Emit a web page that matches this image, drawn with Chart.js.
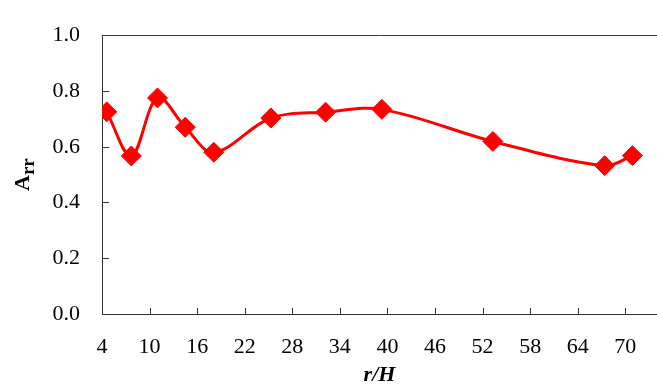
<!DOCTYPE html>
<html>
<head>
<meta charset="utf-8">
<script src="https://cdn.jsdelivr.net/npm/chart.js@4.4.1/dist/chart.umd.min.js"></script>
<style>
  html, body { margin:0; padding:0; background:#fff; overflow:hidden; }
  #wrap { width:657px; height:389px; position:relative; }
</style>
</head>
<body>
<div id="wrap"><canvas id="chart" width="657" height="389"></canvas></div>
<script>
// values
const rH  = [4.6, 7.7, 11.0, 14.5, 18.1, 25.3, 32.2, 39.3, 53.3, 67.4, 70.9];
const Arr = [0.725, 0.567, 0.775, 0.670, 0.580, 0.703, 0.724, 0.734, 0.619, 0.532, 0.568];
const xTicks = [4, 10, 16, 22, 28, 34, 40, 46, 52, 58, 64, 70];
const yTicks = [0, 0.2, 0.4, 0.6, 0.8, 1.0];

const serif = "'Liberation Serif', 'Times New Roman', serif";
const RED = '#ff0000';

// inward tick marks, top frame line, rotated A_rr title
const axisExtras = {
  id: 'axisExtras',
  afterDraw(chart) {
    const {ctx, chartArea: a, scales: {x, y}} = chart;
    ctx.save();
    ctx.strokeStyle = '#333';
    ctx.lineWidth = 1;
    ctx.beginPath();
    xTicks.slice(1).forEach(v => {
      const px = Math.round(x.getPixelForValue(v)) + 0.5;
      ctx.moveTo(px, a.bottom); ctx.lineTo(px, a.bottom - 6);
    });
    yTicks.slice(1, -1).forEach(v => {
      const py = Math.round(y.getPixelForValue(v)) + 0.5;
      ctx.moveTo(a.left, py); ctx.lineTo(a.left + 7, py);
    });
    const top = Math.round(a.top) + 0.5;
    ctx.moveTo(a.left, top); ctx.lineTo(chart.width, top);
    ctx.stroke();

    // y title: A with subscript rr
    ctx.translate(29, (a.top + a.bottom) / 2);
    ctx.rotate(-Math.PI / 2);
    ctx.fillStyle = '#000';
    ctx.textBaseline = 'alphabetic';
    ctx.font = 'bold 22px ' + serif;
    const wA = ctx.measureText('A').width;
    ctx.font = 'bold 19px ' + serif;
    const wS = ctx.measureText('rr').width;
    const sx = -(wA + wS) / 2;
    ctx.font = 'bold 22px ' + serif;
    ctx.fillText('A', sx, 0);
    ctx.font = 'bold 19px ' + serif;
    ctx.fillText('rr', sx + wA, 5);
    ctx.restore();
  }
};

new Chart(document.getElementById('chart'), {
  type: 'line',
  data: {
    datasets: [{
      data: rH.map((v, i) => ({x: v, y: Arr[i]})),
      borderColor: RED,
      backgroundColor: RED,
      borderWidth: 3,
      tension: 0.35,
      pointStyle: 'rectRot',
      pointRadius: 10,
      pointBorderWidth: 1,
      pointBorderColor: RED,
      pointBackgroundColor: RED
    }]
  },
  options: {
    responsive: false,
    animation: false,
    layout: { autoPadding: false, padding: { top: 18, right: 0, left: 0, bottom: 0 } },
    plugins: { legend: { display: false }, tooltip: { enabled: false } },
    scales: {
      x: {
        type: 'linear',
        min: 4, max: 74,
        afterBuildTicks: s => { s.ticks = xTicks.map(v => ({value: v})); },
        afterFit: s => { s.height = 75; },
        grid: { display: true, drawOnChartArea: false, drawTicks: false },
        border: { display: true, color: '#333', width: 1 },
        ticks: { padding: 20, color: '#000', maxRotation: 0, autoSkip: false,
                 font: { family: serif, size: 22 } },
        title: { display: true, text: 'r/H', color: '#000', padding: { top: 4, bottom: 0 },
                 font: { family: serif, size: 22, weight: 'bold', style: 'italic' } }
      },
      y: {
        min: 0, max: 1,
        afterBuildTicks: s => { s.ticks = yTicks.map(v => ({value: v})); },
        afterFit: s => { s.width = 102; },
        grid: { display: true, drawOnChartArea: false, drawTicks: false },
        border: { display: true, color: '#333', width: 1 },
        ticks: { padding: 22, color: '#000', callback: v => v.toFixed(1),
                 font: { family: serif, size: 22 } }
      }
    }
  },
  plugins: [axisExtras]
});
</script>
</body>
</html>
